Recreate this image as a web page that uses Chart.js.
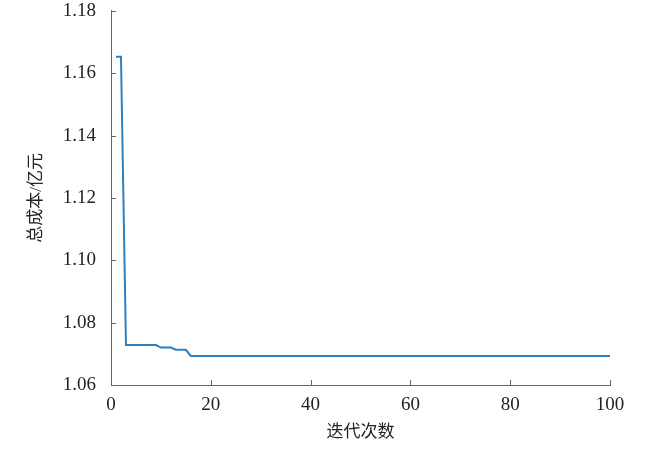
<!DOCTYPE html>
<html lang="zh">
<head>
    <meta charset="UTF-8" />
    <title>迭代次数 - 总成本</title>
    <script src="https://cdn.jsdelivr.net/npm/chart.js@4.4.0/dist/chart.umd.min.js"></script>
    <style>
        html, body { margin: 0; padding: 0; background: #fff; }
        #wrap { width: 650px; height: 449px; }
    </style>
</head>
<body>
    <div id="wrap"><canvas id="myChart"></canvas></div>

    <script>
        // data (step-like convergence curve)
        var iterations = [1, 2, 3, 9, 10, 12, 13, 15, 16, 100];
        var costs = [1.1653, 1.1653, 1.0728, 1.0728, 1.0720, 1.0720, 1.0713, 1.0713, 1.0693, 1.0693];
        var xTicks = [0, 20, 40, 60, 80, 100];
        var yTicks = [1.06, 1.08, 1.10, 1.12, 1.14, 1.16, 1.18];

        var axisColor = '#666666';
        var serif = '"Liberation Serif", "Noto Sans CJK SC", serif';

        // small inward ticks, like the original figure
        var inwardTicks = {
            id: 'inwardTicks',
            afterDraw: function (chart) {
                var ctx = chart.ctx;
                var xs = chart.scales.x, ys = chart.scales.y;
                var len = 5;
                ctx.save();
                ctx.strokeStyle = axisColor;
                ctx.lineWidth = 1;
                ctx.beginPath();
                xTicks.forEach(function (v) {
                    var px = Math.round(xs.getPixelForValue(v)) + 0.5;
                    ctx.moveTo(px, ys.bottom);
                    ctx.lineTo(px, ys.bottom - len);
                });
                yTicks.forEach(function (v) {
                    var py = Math.round(ys.getPixelForValue(v)) + 0.5;
                    ctx.moveTo(xs.left, py);
                    ctx.lineTo(xs.left + len, py);
                });
                ctx.stroke();
                ctx.restore();
            }
        };

        var ctx = document.getElementById('myChart').getContext('2d');
        var myChart = new Chart(ctx, {
            type: 'line',
            data: {
                datasets: [{
                    data: iterations.map(function (it, i) { return { x: it, y: costs[i] }; }),
                    borderColor: '#2f7fbf',
                    borderWidth: 2,
                    pointRadius: 0,
                    tension: 0,
                    fill: false
                }]
            },
            options: {
                responsive: true,
                maintainAspectRatio: false,
                animation: false,
                layout: { padding: { top: 2, right: 40, left: 0, bottom: 0 } },
                plugins: {
                    legend: { display: false },
                    tooltip: { enabled: false }
                },
                scales: {
                    x: {
                        type: 'linear',
                        min: 0,
                        max: 100,
                        afterBuildTicks: function (scale) {
                            scale.ticks = xTicks.map(function (v) { return { value: v }; });
                        },
                        grid: { display: false },
                        border: { display: true, color: axisColor, width: 1 },
                        ticks: {
                            color: '#222',
                            padding: 1,
                            maxRotation: 0,
                            font: { family: serif, size: 19 }
                        },
                        title: {
                            display: true,
                            text: '迭代次数',
                            color: '#222',
                            padding: { top: 4, bottom: 6 },
                            font: { family: serif, size: 17 }
                        },
                        afterFit: function (scale) { scale.height = 64; }
                    },
                    y: {
                        min: 1.06,
                        max: 1.18,
                        afterBuildTicks: function (scale) {
                            scale.ticks = yTicks.map(function (v) { return { value: v }; });
                        },
                        grid: { display: false },
                        border: { display: true, color: axisColor, width: 1 },
                        ticks: {
                            color: '#222',
                            padding: 7,
                            font: { family: serif, size: 19, lineHeight: 0.4 },
                            callback: function (v) { return Number(v).toFixed(2); }
                        },
                        title: {
                            display: true,
                            text: '总成本/亿元',
                            color: '#222',
                            padding: { top: 26, bottom: 0 },
                            font: { family: serif, size: 17 }
                        },
                        afterFit: function (scale) { scale.width = 111; }
                    }
                }
            },
            plugins: [inwardTicks]
        });
    </script>
</body>
</html>
